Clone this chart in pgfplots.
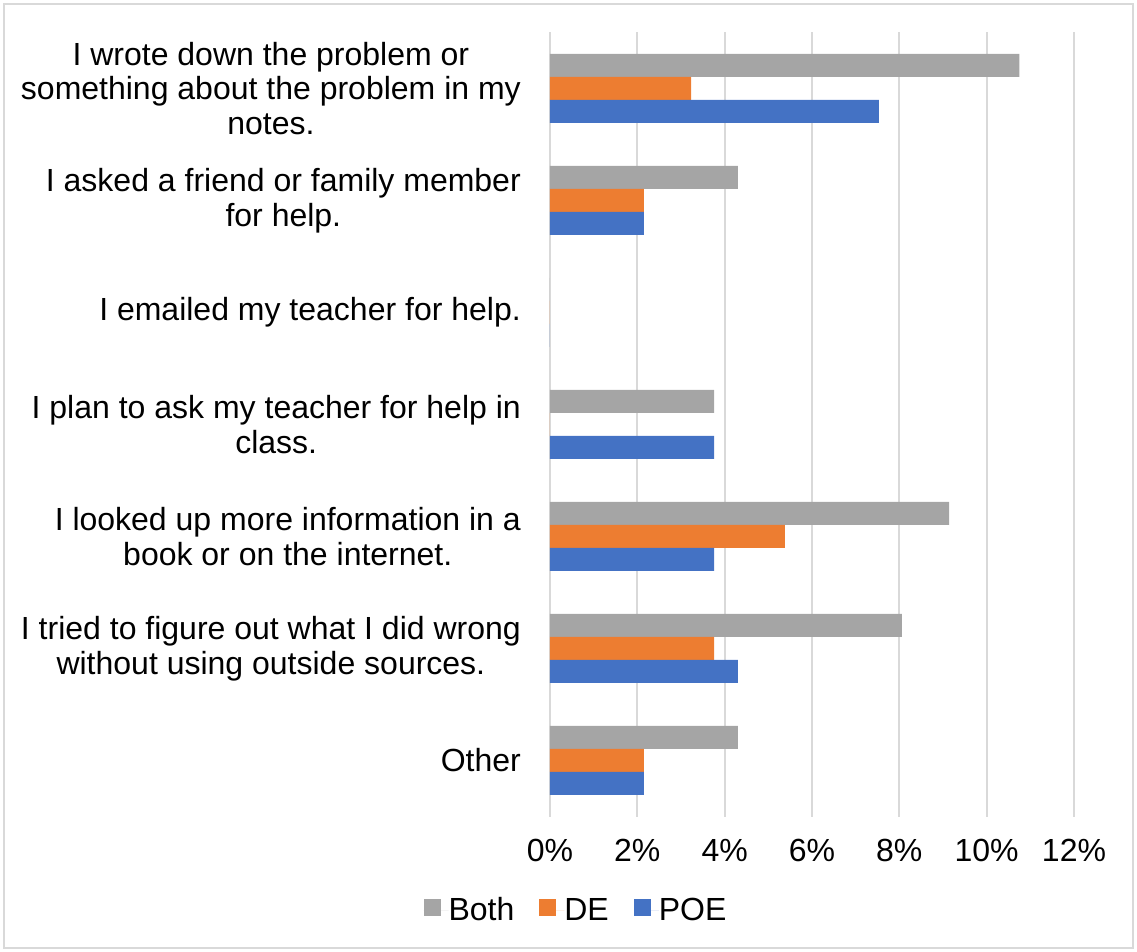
\documentclass[border=0pt]{standalone}
\usepackage{fontspec}
\setmainfont{Liberation Sans}
\usepackage{pgfplots}
\pgfplotsset{compat=1.18}
\definecolor{cboth}{HTML}{A5A5A5}
\definecolor{cde}{HTML}{ED7D31}
\definecolor{cpoe}{HTML}{4472C4}
\definecolor{cgrid}{HTML}{D9D9D9}
\newcommand{\bigfont}{\fontsize{32}{34.5}\selectfont}
\begin{document}
\begin{tikzpicture}[x=1pt,y=1pt]
\useasboundingbox (-550,-135.5) rectangle (587,816.5);
\draw[cgrid, line width=1.5pt] (-546,-131.5) rectangle (583,812.5);
\begin{axis}[
  at={(0,0)}, anchor=south west,
  scale only axis, width=524pt, height=784pt,
  xmin=0, xmax=12, ymin=-0.5, ymax=6.5,
  xbar, bar width=23pt,
  every axis plot/.append style={legend image code/.code={\fill[##1] (0pt,-6.3pt) rectangle (17pt,10.7pt); \path (0pt,0pt) -- (25pt,0pt);}},
  axis x line*=bottom, axis y line*=left,
  axis line style={draw=none},
  major tick length=0pt,
  xmajorgrids, grid style={cgrid, line width=1.8pt},
  /pgf/number format/assume math mode=true,
  xtick={0,2,...,12},
  xticklabel={\pgfmathprintnumber{\tick}\%},
  xticklabel style={font=\bigfont, anchor=center, inner sep=0pt, yshift=-33.5pt},
  ytick={0,1,2,3,4,5,6},
  yticklabels={Other,
    {I tried to figure out what I did wrong\\without using outside sources.},
    {I looked up more information in a\\book or on the internet.},
    {I plan to ask my teacher for help in\\class.},
    {I emailed my teacher for help.},
    {I asked a friend or family member\\for help.},
    {I wrote down the problem or\\something about the problem in my\\notes.}},
  yticklabel style={font=\bigfont, align=center, anchor=east, inner sep=0pt, xshift=-29pt},
  legend style={at={(axis description cs:0.0477,-0.1193)}, anchor=center, draw=none, fill=none,
    font=\bigfont, legend columns=3, nodes={inner sep=0pt},
    /tikz/every even column/.append style={column sep=25pt}},
]
\addplot[fill=cboth, draw=none, bar shift=23pt] coordinates {
  (4.30,0) (8.06,1) (9.14,2) (3.76,3) (0,4) (4.30,5) (10.75,6)};
\addplot[fill=cde, draw=none, bar shift=0pt] coordinates {
  (2.15,0) (3.76,1) (5.38,2) (0,3) (0,4) (2.15,5) (3.23,6)};
\addplot[fill=cpoe, draw=none, bar shift=-23pt] coordinates {
  (2.15,0) (4.30,1) (3.76,2) (3.76,3) (0,4) (2.15,5) (7.53,6)};
\legend{Both,DE,POE}
\end{axis}
\end{tikzpicture}
\end{document}
